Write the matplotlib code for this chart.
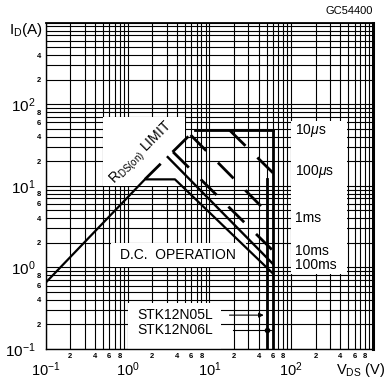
import matplotlib
matplotlib.use("Agg")
import matplotlib.pyplot as plt
from matplotlib.patches import Rectangle
from matplotlib.ticker import FixedLocator, FixedFormatter

plt.rcParams['font.family'] = ['Liberation Sans', 'DejaVu Sans']
plt.rcParams['mathtext.fontset'] = 'custom'
plt.rcParams['mathtext.rm'] = 'Liberation Sans'
plt.rcParams['mathtext.it'] = 'Liberation Sans:italic'
plt.rcParams['mathtext.bf'] = 'Liberation Sans:bold'

# safe operating area, V_DS (V) / I_D (A)
dc_v = [0.1, 1.63, 3.8, 60]
dc_i = [0.65, 12, 12, 0.84]
rds_v = [1.63, 6.6]
rds_i = [12, 48]
ms100_v = [3.1, 60]
ms100_i = [22.5, 1.1]
ms10_v = [3.6, 60]
ms10_i = [26, 1.6]
ms1_v = [5.9, 60]
ms1_i = [42, 4.0]
us100_v = [17.7, 60]
us100_i = [48, 14.4]
us10_v = [6.6, 60]
us10_i = [48, 48]
vdss_v = [50, 60]
vdss_top = [12, 48]

pulse_labels = ["10$\\mu$s", "100$\\mu$s", "1ms", "10ms", "100ms"]
pulse_label_i = [47, 15, 4.0, 1.6, 1.06]

decades = [0.1, 1, 10, 100, 1000]
x_major_labels = ["$10^{-1}$", "$10^{0}$", "$10^{1}$", "$10^{2}$", ""]
y_major_labels = ["$10^{-1}$", "$10^{0}$", "$10^{1}$", "$10^{2}$", ""]

fig = plt.figure(figsize=(3.87, 3.79), dpi=100)
ax = fig.add_axes([0.1181, 0.0792, 0.8457, 0.861])
ax.set_xscale('log')
ax.set_yscale('log')
ax.set_xlim(0.1, 1000)
ax.set_ylim(0.1, 1000)

# grid: every 1..9 of each decade
minor = []
xminor_lab = []
yminor_lab = []
for d in decades[:-1]:
    for m in range(2, 10):
        minor.append(m * d)
        xminor_lab.append(str(m) if m % 2 == 0 else "")
        if d == 100:
            yminor_lab.append(str(m) if m in (2, 4) else "")
        else:
            yminor_lab.append(str(m) if m % 2 == 0 else "")

for axis, majlab, minlab in [(ax.xaxis, x_major_labels, xminor_lab),
                             (ax.yaxis, y_major_labels, yminor_lab)]:
    axis.set_major_locator(FixedLocator(decades))
    axis.set_major_formatter(FixedFormatter(majlab))
    axis.set_minor_locator(FixedLocator(minor))
    axis.set_minor_formatter(FixedFormatter(minlab))

ax.tick_params(which='both', length=0)
ax.tick_params(axis='x', which='major', labelsize=10.5, pad=8)
ax.tick_params(axis='x', which='minor', labelsize=5.5, pad=3)
ax.tick_params(axis='y', which='major', labelsize=11, pad=7.5)
ax.tick_params(axis='y', which='minor', labelsize=5.5, pad=3.5)
for lab in ax.get_xminorticklabels() + ax.get_yminorticklabels():
    lab.set_fontweight('bold')

ax.set_axisbelow(True)
ax.grid(which='both', color='black', lw=0.8)
for s in ax.spines.values():
    s.set_linewidth(1.0)
ax.spines['right'].set_linewidth(2.2)
ax.spines['top'].set_linewidth(1.3)

# white label boxes
for (x0, x1, y0, y1) in [(0.5, 5, 10, 70), (0.62, 28, 1.0, 2.0),
                         (1.0, 14, 0.1, 0.37), (100, 480, 0.83, 62)]:
    ax.add_patch(Rectangle((x0, y0), x1 - x0, y1 - y0, facecolor='white',
                           edgecolor='none', zorder=1.5))

dash = dict(color='black', lw=2, dashes=(8, 6), zorder=3)
ax.plot(dc_v, dc_i, color='black', lw=1.6, zorder=3)
ax.plot(ms100_v, ms100_i, color='black', lw=1.7, zorder=3)
ax.plot(rds_v, rds_i, **dash)
ax.plot(ms10_v, ms10_i, **dash)
ax.plot(ms1_v, ms1_i, **dash)
ax.plot(us100_v, us100_i, **dash)
ax.plot(us10_v, us10_i, color='black', lw=2, zorder=3)
for v, top in zip(vdss_v, vdss_top):
    ax.plot([v, v], [0.1, top], color='black', lw=2, zorder=3)

ax.text(1.5, 25, "R$_{\\rm DS(on)}$ LIMIT", rotation=45, ha='center',
        va='center', fontsize=10, zorder=4)
ax.text(4.1, 1.4, "D.C.  OPERATION", ha='center', va='center', fontsize=10,
        zorder=4)
ax.text(1.3, 0.26, "STK12N05L", ha='left', va='center', fontsize=10, zorder=4)
ax.text(1.3, 0.17, "STK12N06L", ha='left', va='center', fontsize=10, zorder=4)
ax.annotate("", xy=(50, 0.26), xytext=(16.3, 0.26), zorder=4,
            arrowprops=dict(arrowstyle='-|>', color='black', lw=0.8,
                            mutation_scale=7))
ax.plot([19.3, 60], [0.17, 0.17], color='black', lw=0.8, zorder=4)
ax.plot([50], [0.17], 'o', color='black', ms=3, zorder=4)

for lab, i in zip(pulse_labels, pulse_label_i):
    ax.text(110, i, lab, ha='left', va='center', fontsize=10, zorder=4)

fig.text(373 / 387, 1 - 11 / 379, "GC54400", ha='right', va='center',
         fontsize=8)
fig.text(43 / 387, 1 - 30 / 379, "I$_{\\rm D}$(A)", ha='right', va='center',
         fontsize=11)
fig.text(361 / 387, 1 - 370 / 379, "V$_{\\rm DS}$ (V)", ha='center',
         va='center', fontsize=10.5)

fig.savefig('out.png', dpi=100)
